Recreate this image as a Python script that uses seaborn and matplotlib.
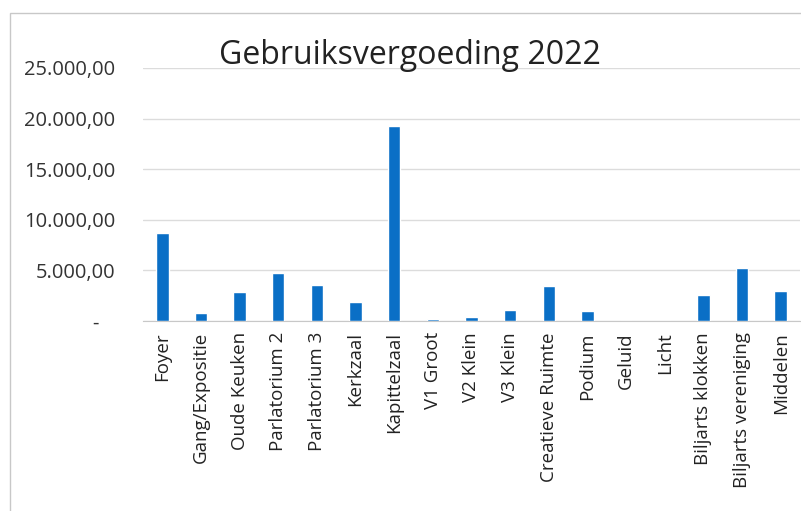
import matplotlib
matplotlib.use('Agg')
import matplotlib.pyplot as plt
import seaborn as sns
import pandas as pd
from matplotlib.ticker import FuncFormatter
from matplotlib.patches import Rectangle

# ruimtes en gebruiksvergoeding 2022
ruimtes = ['Foyer', 'Gang/Expositie', 'Oude Keuken', 'Parlatorium 2', 'Parlatorium 3',
           'Kerkzaal', 'Kapittelzaal', 'V1 Groot', 'V2 Klein', 'V3 Klein',
           'Creatieve Ruimte', 'Podium', 'Geluid', 'Licht', 'Biljarts klokken',
           'Biljarts vereniging', 'Middelen']
vergoeding = [8650, 760, 2900, 4770, 3520, 1870, 19300, 180, 420, 1090,
              3490, 1020, 0, 0, 2570, 5230, 2990]
yticks = [0, 5000, 10000, 15000, 20000, 25000]

df = pd.DataFrame({'Ruimte': ruimtes, 'Vergoeding': vergoeding})

sns.set_style('white')
plt.rcParams['font.family'] = ['Open Sans', 'DejaVu Sans']

fig = plt.figure(figsize=(8.01, 5.11), dpi=100)
ax = fig.add_axes([143 / 801, 1 - 321 / 511, (800 - 143) / 801, (321 - 68) / 511])

sns.barplot(data=df, x='Ruimte', y='Vergoeding', color='#0a6fc6', width=0.32,
            saturation=1, ax=ax, zorder=3)


def nl_fmt(v, pos):
    if v == 0:
        return '-   '
    s = f"{v:,.2f}"
    return s.replace(',', 'X').replace('.', ',').replace('X', '.')


ax.set_ylim(0, 25000)
ax.set_yticks(yticks)
ax.yaxis.set_major_formatter(FuncFormatter(nl_fmt))
ax.set_xlim(-0.5, len(ruimtes) - 0.5)
ax.grid(axis='y', color='#dcdcdc', linewidth=1, zorder=0)
ax.set_xlabel('')
ax.set_ylabel('')
for side in ['top', 'right', 'left']:
    ax.spines[side].set_visible(False)
ax.spines['bottom'].set_color('#c8c8c8')
ax.tick_params(axis='y', length=0, pad=20, labelsize=14.5, labelcolor='#333333')
ax.tick_params(axis='x', length=0, pad=8, labelsize=13.5, labelcolor='#222222')
plt.setp(ax.get_xticklabels(), rotation=90)

fig.text(410 / 801, 1 - 55 / 511, 'Gebruiksvergoeding 2022', ha='center', va='center',
         fontsize=23, color='#222222')

# chart frame (scan)
fig.patches.append(Rectangle((10 / 801, -0.1), 1.2, 1 - 13 / 511 + 0.1, transform=fig.transFigure,
                             fill=False, edgecolor='#c8c8c8', linewidth=1))

fig.savefig('out.png', dpi=100)
